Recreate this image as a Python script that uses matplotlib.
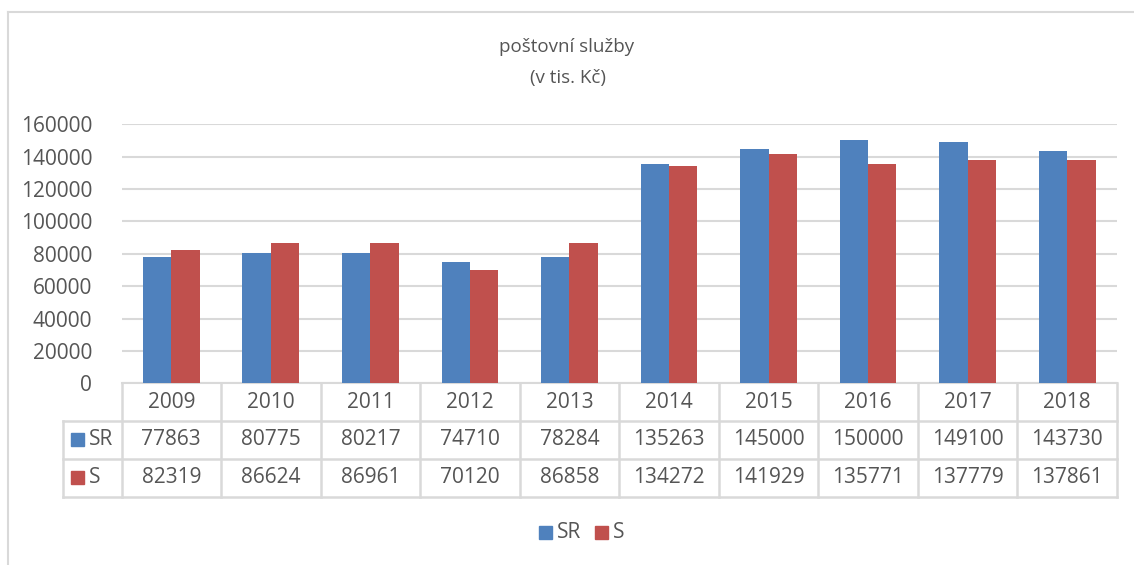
import matplotlib
matplotlib.use("Agg")
import matplotlib.pyplot as plt
from matplotlib.patches import Rectangle
from matplotlib.lines import Line2D
import matplotlib.transforms as mtransforms
import numpy as np

plt.rcParams['font.family'] = ['Open Sans', 'DejaVu Sans']

years = ["2009", "2010", "2011", "2012", "2013", "2014", "2015", "2016", "2017", "2018"]
sr_values = [77863, 80775, 80217, 74710, 78284, 135263, 145000, 150000, 149100, 143730]
s_values = [82319, 86624, 86961, 70120, 86858, 134272, 141929, 135771, 137779, 137861]
series_names = ["SR", "S"]
title_lines = ["poštovní služby", "(v tis. Kč)"]
yticks = [0, 20000, 40000, 60000, 80000, 100000, 120000, 140000, 160000]

BLUE = "#4F81BD"
RED = "#C0504D"
TXT = "#555555"
GRID = "#D9D9D9"
FS = 15
FS_T = 13.5

W, H = 1134, 565
fig = plt.figure(figsize=(W / 100, H / 100), dpi=100)
fig.patch.set_facecolor("white")

# outer chart frame (top and left visible)
fig.add_artist(Line2D([8 / W, 8 / W], [0, 1 - 12 / H], color=GRID, lw=1.5, transform=fig.transFigure))
fig.add_artist(Line2D([8 / W, 1], [1 - 12 / H, 1 - 12 / H], color=GRID, lw=1.5, transform=fig.transFigure))

ax_left, ax_right = 121.5, 1117
ax_top, ax_bot = 124.3, 383.3
ax = fig.add_axes([ax_left / W, (H - ax_bot) / H, (ax_right - ax_left) / W, (ax_bot - ax_top) / H])

x = np.arange(len(years))
bw = 0.285
ax.bar(x - bw / 2, sr_values, bw, color=BLUE, zorder=3)
ax.bar(x + bw / 2, s_values, bw, color=RED, zorder=3)

ax.set_xlim(-0.5, len(years) - 0.5)
ax.set_ylim(0, 160000)
ax.set_yticks(yticks)
ax.set_yticklabels([str(v) for v in yticks], color=TXT, fontsize=FS)
ax.tick_params(axis='y', length=0, pad=21)
ax.set_xticks([])
ax.grid(axis='y', color=GRID, lw=1.5, zorder=0)
for sp in ["top", "right", "left"]:
    ax.spines[sp].set_visible(False)
ax.spines["bottom"].set_color(GRID)
ax.spines["bottom"].set_linewidth(1.5)

# data table
trans = mtransforms.blended_transform_factory(ax.transData, ax.transAxes)
axh = ax_bot - ax_top
r0 = 0.0
r1 = -(421 - ax_bot) / axh
r2 = -(458.5 - ax_bot) / axh
r3 = -(497 - ax_bot) / axh
xl = -0.5 - (ax_left - 63) / ((ax_right - ax_left) / len(years))
xr = len(years) - 0.5
lk = dict(color=GRID, lw=1.8, transform=trans, clip_on=False)
for yy in [r1, r2, r3]:
    ax.add_line(Line2D([xl, xr], [yy, yy], **lk))
for i in range(len(years) + 1):
    ax.add_line(Line2D([i - 0.5, i - 0.5], [r0, r3], **lk))
ax.add_line(Line2D([xl, xl], [r1, r3], **lk))

for i, yr in enumerate(years):
    ax.text(i, (r0 + r1) / 2, yr, transform=trans, ha='center', va='center', color=TXT, fontsize=FS)
    ax.text(i, (r1 + r2) / 2, str(sr_values[i]), transform=trans, ha='center', va='center', color=TXT, fontsize=FS)
    ax.text(i, (r2 + r3) / 2, str(s_values[i]), transform=trans, ha='center', va='center', color=TXT, fontsize=FS)

# row labels with colour keys (figure pixel coords)
def px(xp, yp):
    return xp / W, 1 - yp / H

for name, col, yc in [(series_names[0], BLUE, 439.5), (series_names[1], RED, 477.5)]:
    fig.add_artist(Rectangle(px(71, yc + 6.5), 13 / W, 13 / H, color=col, transform=fig.transFigure))
    fig.text(*px(89, yc), name, ha='left', va='center', color=TXT, fontsize=FS)

# title
fig.text(*px(567, 47), title_lines[0], ha='center', va='center', color=TXT, fontsize=FS_T)
fig.text(*px(568, 78), title_lines[1], ha='center', va='center', color=TXT, fontsize=FS_T)

# legend
fig.add_artist(Rectangle(px(539, 539), 13 / W, 13 / H, color=BLUE, transform=fig.transFigure))
fig.text(*px(557, 533), series_names[0], ha='left', va='center', color=TXT, fontsize=FS)
fig.add_artist(Rectangle(px(595, 539), 13 / W, 13 / H, color=RED, transform=fig.transFigure))
fig.text(*px(613, 533), series_names[1], ha='left', va='center', color=TXT, fontsize=FS)

fig.savefig("out.png", dpi=100, facecolor="white")
